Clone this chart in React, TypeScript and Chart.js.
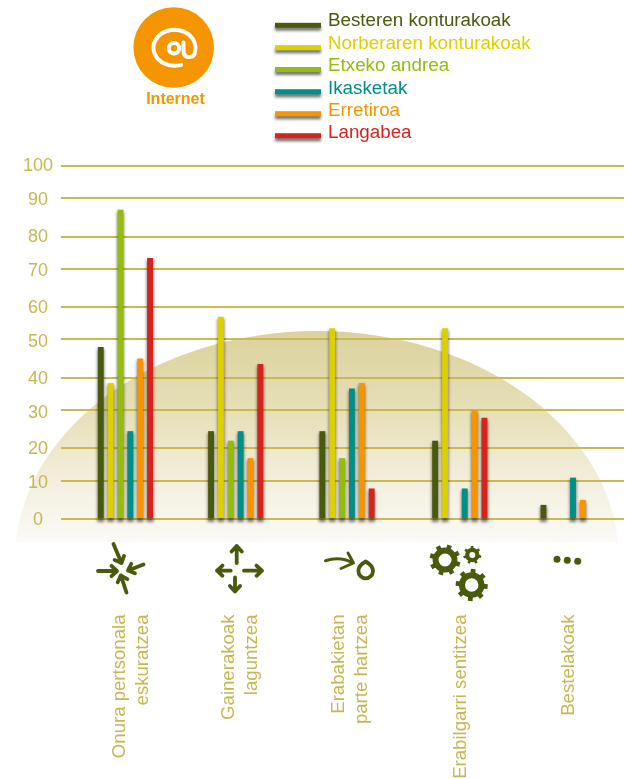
import React, { useEffect, useRef } from "react";
import { Chart, registerables, LinearScale, CategoryScale } from "chart.js";

const categories: (string | string[])[] = [
  ["Onura pertsonala", "eskuratzea"],
  ["Gainerakoak", "laguntzea"],
  ["Erabakietan", "parte hartzea"],
  "Erabilgarri sentitzea",
  "Bestelakoak",
];
const besteren = [48, 24.5, 24.5, 22, 3.7];
const norberaren = [38.4, 57, 53.4, 53.4, null];
const etxeko = [87, 22, 17, null, null];
const ikasketak = [24.5, 24.5, 36.7, 8, 11];
const erretiroa = [45, 17, 38.4, 30, 5];
const langabea = [73.3, 43.6, 8, 28, null];

const seriesNames = ["Besteren konturakoak", "Norberaren konturakoak", "Etxeko andrea", "Ikasketak", "Erretiroa", "Langabea"];
const seriesValues = [besteren, norberaren, etxeko, ikasketak, erretiroa, langabea];
const seriesColors = ["#4a5a0c", "#ddcf00", "#95bb0f", "#008f88", "#f59600", "#d7231e"];

// The source axis is printed with alternating tick gaps; this maps each printed tick to its drawn place.
const printedTicks = [0, 10, 20, 30, 40, 50, 60, 70, 80, 90, 100];
const drawnTicks = [0, 10.8, 20, 30.85, 40, 50.95, 60, 70.9, 80, 90.9, 100];
const yLabelNudge = [1, 2, 1, 3, 1, 3, 1, 2, 0.5, 2, 0];
const groupNudge = [0, -0.5, 0, 2, -0.5];
const xLabelNudge = [-5.8, -6.4, -8.4, 1.5, 1.2];

const GRID = "#c8ba4f";
const LABEL = "#c6b752";
const OLIVE = "#4a5a0c";
const ORANGE = "#f59600";
const FONT = "'Liberation Sans', Arial, sans-serif";

class PrintedLinearScale extends LinearScale {
  static id = "printedLinear";
  static defaults = LinearScale.defaults;
  getPixelForValue(value: number) {
    if (value === null || value === undefined) return NaN;
    let w = value;
    for (let i = 0; i < printedTicks.length - 1; i++) {
      if (value >= printedTicks[i] && value <= printedTicks[i + 1]) {
        const t = (value - printedTicks[i]) / (printedTicks[i + 1] - printedTicks[i]);
        w = drawnTicks[i] + t * (drawnTicks[i + 1] - drawnTicks[i]);
        break;
      }
    }
    return super.getPixelForValue(w);
  }
  _computeLabelItems(ca: any) {
    const items = (LinearScale.prototype as any)._computeLabelItems.call(this, ca);
    items.forEach((it: any, i: number) => {
      it.options.translation = [it.options.translation[0], it.options.translation[1] + yLabelNudge[i]];
    });
    return items;
  }
}

class NudgedCategoryScale extends CategoryScale {
  static id = "nudgedCategory";
  static defaults = CategoryScale.defaults;
  getPixelForValue(value: any) {
    const px = super.getPixelForValue(value);
    return typeof value === "number" ? px + (groupNudge[value] || 0) : px;
  }
  _computeLabelItems(ca: any) {
    const items = (CategoryScale.prototype as any)._computeLabelItems.call(this, ca);
    items.forEach((it: any, i: number) => {
      it.options.translation = [it.options.translation[0] + xLabelNudge[i], it.options.translation[1]];
    });
    return items;
  }
}

Chart.register(...registerables, PrintedLinearScale, NudgedCategoryScale);

function arrow(c: CanvasRenderingContext2D, x0: number, y0: number, x1: number, y1: number, head = 7.5) {
  const a = Math.atan2(y1 - y0, x1 - x0);
  c.beginPath();
  c.moveTo(x0, y0);
  c.lineTo(x1, y1);
  c.moveTo(x1 - head * Math.cos(a - 0.75), y1 - head * Math.sin(a - 0.75));
  c.lineTo(x1, y1);
  c.lineTo(x1 - head * Math.cos(a + 0.75), y1 - head * Math.sin(a + 0.75));
  c.stroke();
}

function gear(c: CanvasRenderingContext2D, x: number, y: number, r: number, hole: number, teeth: number, rot: number) {
  c.beginPath();
  c.arc(x, y, (r * 0.8 + hole) / 2, 0, Math.PI * 2);
  c.lineWidth = r * 0.8 - hole;
  c.stroke();
  c.lineWidth = r * 0.3;
  c.lineCap = "butt";
  for (let i = 0; i < teeth; i++) {
    const a = rot + (i * 2 * Math.PI) / teeth;
    c.beginPath();
    c.moveTo(x + Math.cos(a) * r * 0.7, y + Math.sin(a) * r * 0.7);
    c.lineTo(x + Math.cos(a) * r, y + Math.sin(a) * r);
    c.stroke();
  }
}

const domePlugin = {
  id: "dome",
  beforeDraw(chart: any) {
    const c = chart.ctx as CanvasRenderingContext2D;
    c.save();
    c.beginPath();
    c.rect(0, 320, 625, 222);
    c.clip();
    const g = c.createLinearGradient(0, 331, 0, 542);
    g.addColorStop(0, "#dcd29e");
    g.addColorStop(0.4, "#e7e0b9");
    g.addColorStop(0.7, "#f3eedc");
    g.addColorStop(1, "#fbfaf6");
    c.fillStyle = g;
    c.beginPath();
    c.ellipse(317, 560, 302, 229, 0, 0, Math.PI * 2);
    c.fill();
    c.restore();
  },
};

const barShadowPlugin = {
  id: "barShadow",
  beforeDatasetsDraw(chart: any) {
    const c = chart.ctx as CanvasRenderingContext2D;
    c.save();
    c.filter = "blur(1.6px)";
    c.fillStyle = "rgba(0,0,0,0.5)";
    chart.data.datasets.forEach((d: any, i: number) => {
      chart.getDatasetMeta(i).data.forEach((b: any, j: number) => {
        if (d.data[j] !== null && Number.isFinite(b.y) && Number.isFinite(b.base)) {
          c.fillRect(b.x - b.width / 2 - 0.5, b.y + 2, b.width + 1, b.base - b.y + 2);
        }
      });
    });
    c.restore();
  },
};

const furniturePlugin = {
  id: "furniture",
  afterDraw(chart: any) {
    const c = chart.ctx as CanvasRenderingContext2D;
    c.save();

    // Internet badge
    c.fillStyle = ORANGE;
    c.beginPath();
    c.arc(173.7, 47.5, 40.3, 0, Math.PI * 2);
    c.fill();
    c.strokeStyle = "#fff";
    c.lineWidth = 4;
    c.lineCap = "round";
    c.beginPath();
    c.arc(174, 48.3, 5.2, 0, Math.PI * 2);
    c.stroke();
    c.beginPath();
    c.ellipse(174.5, 47.8, 21, 18, 0, 1.25, Math.PI * 2 + 0.2);
    c.quadraticCurveTo(195, 57.5, 188.5, 57);
    c.quadraticCurveTo(183.5, 57, 183.5, 50);
    c.lineTo(183.5, 42.5);
    c.stroke();
    c.fillStyle = ORANGE;
    c.font = `bold 16px ${FONT}`;
    c.textAlign = "center";
    c.textBaseline = "middle";
    c.fillText("Internet", 175.5, 100);

    // Legend, from the datasets
    const lineY = [25.3, 47.7, 69.5, 91.7, 113.7, 135.7];
    const textY = [21, 43.5, 66, 89, 111, 133];
    c.textAlign = "left";
    c.font = `18.8px ${FONT}`;
    chart.data.datasets.forEach((d: any, i: number) => {
      c.save();
      c.shadowColor = "rgba(0,0,0,0.55)";
      c.shadowBlur = 3;
      c.shadowOffsetY = 3;
      c.fillStyle = d.backgroundColor;
      c.fillRect(275, lineY[i] - 2.5, 46, 5);
      c.restore();
      c.fillStyle = d.backgroundColor;
      c.fillText(d.label, 328, textY[i]);
    });

    // Category icons
    c.strokeStyle = OLIVE;
    c.fillStyle = OLIVE;
    c.lineCap = "round";
    c.lineJoin = "round";
    c.lineWidth = 3.8;
    arrow(c, 98, 571, 117, 571);
    arrow(c, 113.5, 544, 121.5, 563);
    arrow(c, 143.5, 564.5, 128, 570.5);
    arrow(c, 126.5, 592.5, 120.8, 575.5);
    arrow(c, 236.7, 563, 236.7, 546);
    arrow(c, 244, 570.7, 262, 570.7);
    arrow(c, 235, 577.5, 235, 591.5);
    arrow(c, 230.7, 570.7, 217, 570.7);

    c.lineWidth = 3;
    c.beginPath();
    c.moveTo(325.5, 560.7);
    c.quadraticCurveTo(340, 556, 353, 563);
    c.moveTo(348, 553);
    c.lineTo(353.5, 563);
    c.lineTo(341, 568.5);
    c.stroke();
    c.lineWidth = 3.8;
    c.beginPath();
    c.moveTo(365.7, 561.5);
    c.bezierCurveTo(370, 564, 373, 567, 373, 571);
    c.arc(365.7, 571, 7.3, 0, Math.PI);
    c.bezierCurveTo(358.4, 567, 361, 564, 365.7, 561.5);
    c.closePath();
    c.stroke();

    gear(c, 445, 560, 15.5, 6.5, 8, 0.3);
    gear(c, 472.3, 555, 9, 3, 7, 0.2);
    gear(c, 471.7, 585, 16, 6.7, 8, 0.1);

    [[557, 559.3], [567.3, 560.3], [577.7, 561.3]].forEach(([x, y]) => {
      c.beginPath();
      c.arc(x, y, 3.5, 0, Math.PI * 2);
      c.fill();
    });
    c.restore();
  },
};

export default function App() {
  const ref = useRef<HTMLCanvasElement>(null);
  useEffect(() => {
    const chart = new Chart(ref.current!, {
      type: "bar",
      data: {
        labels: categories,
        datasets: seriesNames.map((label, i) => ({
          label,
          data: seriesValues[i],
          backgroundColor: seriesColors[i],
          borderWidth: 0,
          categoryPercentage: 0.546,
          barPercentage: 0.594,
          clip: false,
        })),
      },
      options: {
        responsive: false,
        animation: false,
        devicePixelRatio: 1,
        layout: { padding: { top: 166, right: 1, left: 0, bottom: 0 } },
        plugins: { legend: { display: false }, tooltip: { enabled: false } },
        scales: {
          x: {
            type: "nudgedCategory",
            grid: { display: false },
            border: { display: false },
            afterFit: (s: any) => { s.height = 260; s.paddingLeft = 0; s.paddingRight = 0; },
            ticks: {
              autoSkip: false,
              minRotation: 90,
              maxRotation: 90,
              padding: 87.5,
              color: LABEL,
              font: { family: FONT, size: 18.6, lineHeight: 1.24 },
            },
          },
          y: {
            type: "printedLinear",
            min: 0,
            max: 100,
            border: { display: false },
            afterFit: (s: any) => { s.width = 70; },
            grid: { color: GRID, lineWidth: 2, tickLength: 9, tickColor: GRID },
            ticks: {
              stepSize: 10,
              crossAlign: "center",
              padding: 8,
              color: LABEL,
              font: { family: FONT, size: 18 },
            },
          },
        },
      } as any,
      plugins: [domePlugin, barShadowPlugin, furniturePlugin],
    });
    return () => chart.destroy();
  }, []);
  return (
    <canvas
      ref={ref}
      width={625}
      height={779}
      style={{ position: "absolute", left: 0, top: 0, display: "block", width: 625, height: 779 }}
    />
  );
}
